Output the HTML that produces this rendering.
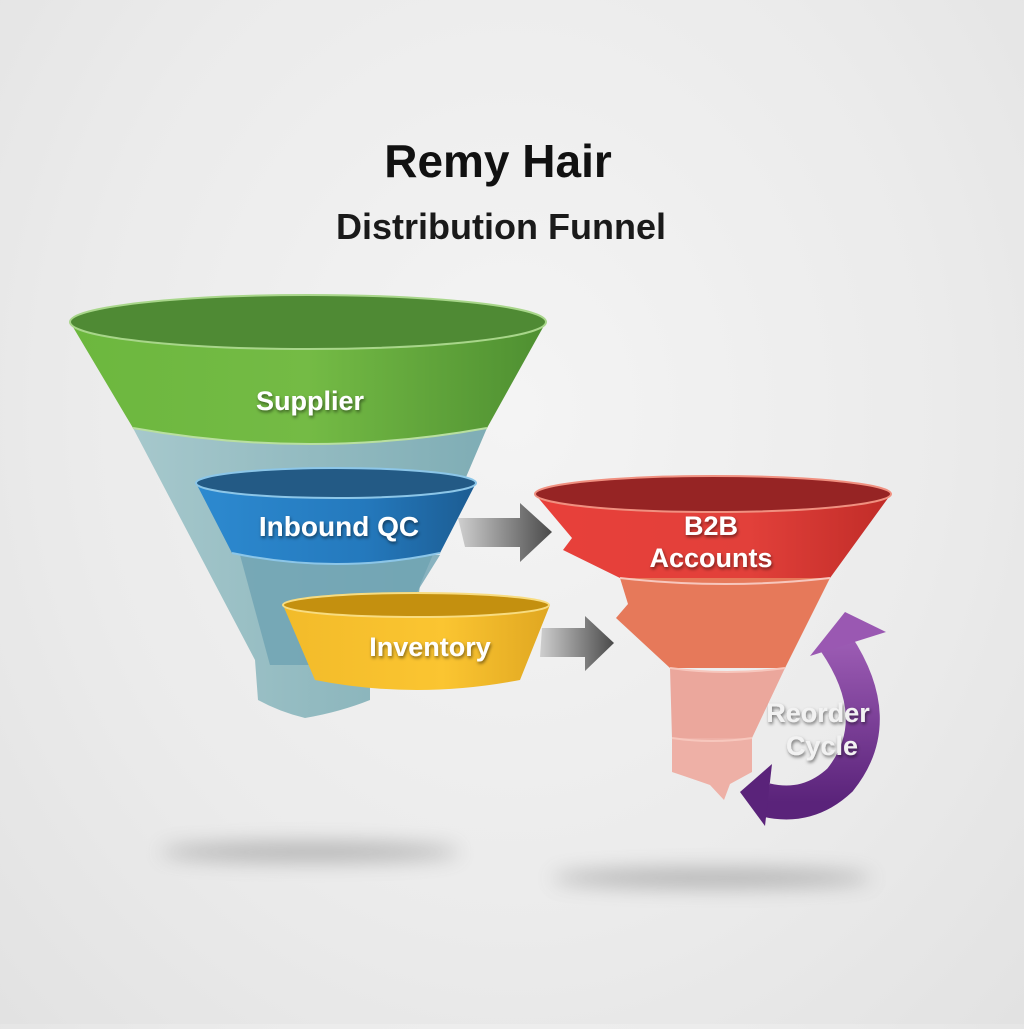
<!DOCTYPE html>
<html><head><meta charset="utf-8"><style>
html,body{margin:0;padding:0;}
body{width:1024px;height:1024px;overflow:hidden;background:radial-gradient(ellipse at 50% 40%,#f4f4f4 0%,#ebebeb 60%,#e2e2e2 100%);font-family:"Liberation Sans",sans-serif;}
</style></head><body>
<svg width="1024" height="1024" viewBox="0 0 1024 1024" xmlns="http://www.w3.org/2000/svg">
<defs>
<filter id="blur" x="-50%" y="-300%" width="200%" height="700%"><feGaussianBlur stdDeviation="10"/></filter>
<filter id="ts"><feDropShadow dx="1" dy="2" stdDeviation="1.5" flood-color="#000" flood-opacity="0.5"/></filter>
<linearGradient id="gG" x1="0" x2="1"><stop offset="0" stop-color="#6cb73e"/><stop offset="0.5" stop-color="#74bb45"/><stop offset="1" stop-color="#4e8f31"/></linearGradient>
<linearGradient id="gT" x1="0" x2="1"><stop offset="0" stop-color="#a6c8cc"/><stop offset="1" stop-color="#7fadb5"/></linearGradient>
<linearGradient id="gB" x1="0" x2="1"><stop offset="0" stop-color="#2d8ad0"/><stop offset="0.6" stop-color="#2479bd"/><stop offset="1" stop-color="#1c5c92"/></linearGradient>
<linearGradient id="gY" x1="0" x2="1"><stop offset="0" stop-color="#f2bb2a"/><stop offset="0.6" stop-color="#fbc531"/><stop offset="1" stop-color="#e0a721"/></linearGradient>
<linearGradient id="gR" x1="0" x2="1"><stop offset="0" stop-color="#e8403a"/><stop offset="0.6" stop-color="#e2403a"/><stop offset="1" stop-color="#c02c28"/></linearGradient>
<linearGradient id="gA" x1="0" x2="1"><stop offset="0" stop-color="#cfcfcf"/><stop offset="1" stop-color="#4a4a4a"/></linearGradient>
<linearGradient id="gP" x1="0" y1="0" x2="0" y2="1"><stop offset="0" stop-color="#9c5cb4"/><stop offset="1" stop-color="#5a237a"/></linearGradient>
</defs>
<ellipse cx="310" cy="852" rx="150" ry="9" fill="#555" opacity="0.4" filter="url(#blur)"/>
<ellipse cx="712" cy="878" rx="160" ry="9" fill="#555" opacity="0.4" filter="url(#blur)"/>
<text x="498" y="177" text-anchor="middle" font-size="46" font-weight="bold" fill="#111">Remy Hair</text>
<text x="501" y="239" text-anchor="middle" font-size="36" font-weight="bold" fill="#1a1a1a">Distribution Funnel</text>

<path d="M133,428 Q310,460 487,428 L420,585 L410,665 L370,680 L370,700 Q340,712 305,718 Q280,712 258,700 L255,660 Z" fill="url(#gT)"/>
<path d="M240,555 L440,555 L412,600 L400,665 L270,665 Z" fill="#6ea2b3" opacity="0.8"/>
<path d="M70,322 Q308,360 546,322 L487,428 Q310,460 133,428 Z" fill="url(#gG)"/>
<path d="M133,428 Q310,460 487,428" fill="none" stroke="#b9dfa0" stroke-width="2"/>
<ellipse cx="308" cy="322" rx="238" ry="27" fill="#4f8a34" stroke="#a8d68a" stroke-width="2"/>
<path d="M196,483 Q336,510 476,483 L440,553 Q336,575 232,553 Z" fill="url(#gB)"/>
<path d="M232,553 Q336,575 440,553" fill="none" stroke="#8cc6e8" stroke-width="2"/>
<ellipse cx="336" cy="483" rx="140" ry="15" fill="#235a85" stroke="#8cc6e8" stroke-width="2"/>
<path d="M283,605 Q416,628 550,605 L520,680 Q416,700 315,680 Z" fill="url(#gY)"/>
<ellipse cx="416" cy="605" rx="133" ry="12" fill="#c4900f" stroke="#f8dc80" stroke-width="2"/>

<polygon points="458,518 520,518 520,503 552,532 520,562 520,547 465,547" fill="url(#gA)"/>
<polygon points="542,628 585,628 585,616 614,643 585,671 585,657 540,657" fill="url(#gA)"/>

<path d="M535,494 L572,538 L563,550 L620,578 Q725,590 830,578 L891,494 Z" fill="url(#gR)"/>
<path d="M620,578 L830,578 L785,668 L670,668 L616,618 L628,604 Z" fill="#e6795a"/>
<path d="M670,668 Q727,676 785,668 L752,738 L672,738 Z" fill="#eba79c"/>
<path d="M672,738 L752,738 L752,772 L730,784 L724,800 L710,785 Q690,778 672,772 Z" fill="#eeb0a6"/>
<path d="M620,578 Q725,590 830,578 M670,668 Q727,676 785,668 M672,738 Q712,744 752,738" fill="none" stroke="#f7c7bd" stroke-width="2"/>
<ellipse cx="713" cy="494" rx="178" ry="18" fill="#962424" stroke="#f09080" stroke-width="2"/>

<path d="M835,642 Q888,720 840,780 Q808,810 766,800" fill="none" stroke="url(#gP)" stroke-width="34"/>
<polygon points="810,656 845,612 886,632" fill="#9a58b2"/>
<polygon points="772,764 740,792 765,826" fill="#5a237a"/>

<g filter="url(#ts)" fill="#fff" font-weight="bold" text-anchor="middle">
<text x="310" y="410" font-size="27">Supplier</text>
<text x="339" y="536" font-size="28">Inbound QC</text>
<text x="430" y="656" font-size="27">Inventory</text>
<text x="711" y="535" font-size="27">B2B</text>
<text x="711" y="567" font-size="27">Accounts</text>
<text x="818" y="722" font-size="27" fill="#f2f2f2">Reorder</text>
<text x="822" y="755" font-size="27" fill="#f2f2f2">Cycle</text>
</g>
</svg>
</body></html>
